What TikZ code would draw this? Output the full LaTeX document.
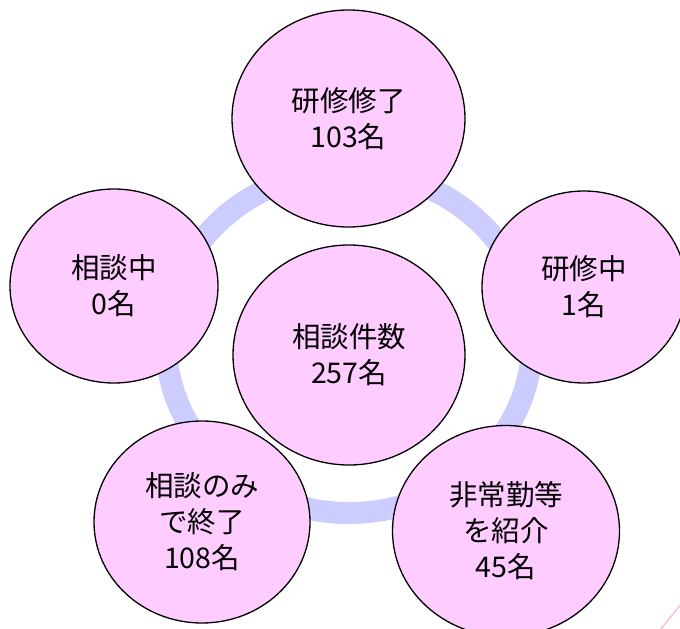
\documentclass[tikz,border=0pt]{standalone}
\usepackage{fontspec}
\setmainfont{Noto Sans CJK JP}
\usetikzlibrary{shapes.geometric}
\definecolor{bubblefill}{HTML}{FFCCFF}
\definecolor{ringc}{HTML}{CCCCFF}
\definecolor{accent}{HTML}{F7B3DD}
\begin{document}
\begin{tikzpicture}[x=1pt,y=-1pt,
  bubble/.style={ellipse, draw=black, line width=1.3pt, fill=bubblefill,
    inner sep=0pt, align=center, font=\fontsize{28.5}{36}\selectfont},
  ringline/.style={draw=ringc, line width=22pt}]
\useasboundingbox (0,0) rectangle (680,629);
\clip (0,0) rectangle (680,629);
\draw[ringline] (349,342) ellipse [x radius=183, y radius=171];
\node[bubble, minimum width=233pt, minimum height=217pt] (top) at (348.5,118.5) {研修修了\\103名};
\node[bubble, minimum width=208pt, minimum height=194pt] (left) at (114,286) {相談中\\0名};
\node[bubble, minimum width=204pt, minimum height=192pt] (right) at (584,287) {研修中\\1名};
\node[bubble, minimum width=232pt, minimum height=220pt] (center) at (349,355) {相談件数\\257名};
\node[bubble, minimum width=216pt, minimum height=202pt] (bl) at (202,522) {相談のみ\\で終了\\108名};
\node[bubble, minimum width=227pt, minimum height=211pt] (br) at (506,531) {非常勤等\\を紹介\\45名};
\coordinate (pa) at (660,630);
\coordinate (pb) at (682,603);
\draw[accent, line width=1.2pt] (pa) -- (pb);
\end{tikzpicture}
\end{document}
